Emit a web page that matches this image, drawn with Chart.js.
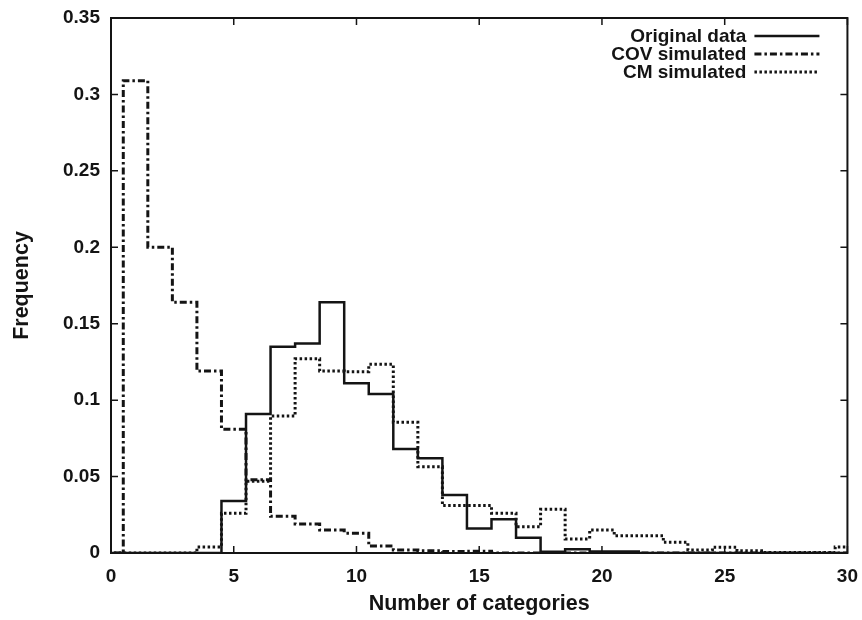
<!DOCTYPE html>
<html>
<head>
<meta charset="utf-8">
<title>Number of categories histogram</title>
<script src="https://cdn.jsdelivr.net/npm/chart.js@4"></script>
<style>
    html, body { margin: 0; padding: 0; background: #fff; }
    #wrap { width: 862px; height: 620px; position: relative; }
</style>
</head>
<body>
<div id="wrap"><canvas id="chart-hist"></canvas></div>
<script>
// ─── DATA ────────────────────────────────────────────────────
// one value per category bin (bin k spans k-0.5 .. k+0.5)
const categories = [0, 1, 2, 3, 4, 5, 6, 7, 8, 9, 10, 11, 12, 13, 14, 15,
                    16, 17, 18, 19, 20, 21, 22, 23, 24, 25, 26, 27, 28, 29, 30];

const originalData = [0, 0, 0, 0, 0, 0.034, 0.091, 0.135, 0.137, 0.164, 0.111,
                      0.104, 0.068, 0.062, 0.038, 0.016, 0.022, 0.010, 0.0008, 0.0024,
                      0.001, 0.001, 0, 0, 0, 0, 0, 0, 0, 0, 0];

const covSimulated = [0, 0.309, 0.200, 0.164, 0.119, 0.081, 0.048, 0.024, 0.019, 0.015,
                      0.013, 0.0045, 0.002, 0.0015, 0.001, 0.0012, 0, 0, 0, 0,
                      0, 0, 0, 0, 0, 0, 0, 0, 0, 0, 0];

const cmSimulated = [0, 0, 0, 0, 0.004, 0.026, 0.047, 0.0896, 0.127, 0.119, 0.1186,
                     0.1234, 0.0855, 0.0565, 0.031, 0.031, 0.026, 0.0172, 0.0286, 0.0092,
                     0.015, 0.0113, 0.0113, 0.007, 0.002, 0.0037, 0.0015, 0.0003, 0.0003, 0.0003,
                     0.004];

const xTicks = [0, 5, 10, 15, 20, 25, 30];
const yTicks = [0, 0.05, 0.1, 0.15, 0.2, 0.25, 0.3, 0.35];
const yTickLabels = ['0', '0.05', '0.1', '0.15', '0.2', '0.25', '0.3', '0.35'];

// ─── HELPERS ─────────────────────────────────────────────────

// turn bin values into step points: left edge of each bin, plus a closing edge
function toSteps(values) {
    const pts = categories.map((c, i) => ({ x: c - 0.5, y: values[i] }));
    pts.push({ x: categories[categories.length - 1] + 0.5, y: 0 });
    return pts;
}

const FONT = '"Liberation Sans", Arial, sans-serif';
const INK = '#141414';

// frame + inward ticks on all four sides, gnuplot style
const framePlugin = {
    id: 'frame',
    afterDatasetsDraw(chart) {
        const { ctx, chartArea: { left, right, top, bottom } } = chart;
        const xs = chart.scales.x, ys = chart.scales.y;
        const len = 7;
        ctx.save();
        ctx.strokeStyle = INK;
        ctx.lineWidth = 1.5;
        ctx.beginPath();
        for (const v of xTicks) {
            const px = xs.getPixelForValue(v);
            ctx.moveTo(px, bottom); ctx.lineTo(px, bottom - len);
            ctx.moveTo(px, top);    ctx.lineTo(px, top + len);
        }
        for (const v of yTicks) {
            const py = ys.getPixelForValue(v);
            ctx.moveTo(left, py);  ctx.lineTo(left + len, py);
            ctx.moveTo(right, py); ctx.lineTo(right - len, py);
        }
        ctx.stroke();
        ctx.lineWidth = 2;
        ctx.strokeRect(left, top, right - left, bottom - top);
        ctx.restore();
    },
};

// legend in the top-right corner: label text, then a line sample to its right
const legendPlugin = {
    id: 'cornerLegend',
    afterDraw(chart) {
        const { ctx, chartArea: { right, top } } = chart;
        chart.data.datasets.forEach((ds, i) => {
            const y = top + 18 + i * 18;
            ctx.save();
            ctx.font = `bold 19px ${FONT}`;
            ctx.textAlign = 'right';
            ctx.textBaseline = 'middle';
            ctx.fillStyle = INK;
            ctx.fillText(ds.label, right - 101, y + 1);
            ctx.strokeStyle = ds.borderColor;
            ctx.lineWidth = ds.borderWidth;
            ctx.setLineDash(ds.borderDash || []);
            ctx.beginPath();
            ctx.moveTo(right - 93, y);
            ctx.lineTo(right - 28, y);
            ctx.stroke();
            ctx.restore();
        });
    },
};

// ─── CHART ───────────────────────────────────────────────────

new Chart(document.getElementById('chart-hist'), {
    type: 'line',
    data: {
        datasets: [
            {
                label: 'Original data',
                data: toSteps(originalData),
                borderColor: INK,
                borderWidth: 2.5,
                stepped: 'before',
                pointRadius: 0,
                fill: false,
            },
            {
                label: 'COV simulated',
                data: toSteps(covSimulated),
                borderColor: INK,
                borderWidth: 3,
                borderDash: [7, 3, 2.5, 3],
                stepped: 'before',
                pointRadius: 0,
                fill: false,
            },
            {
                label: 'CM simulated',
                data: toSteps(cmSimulated),
                borderColor: INK,
                borderWidth: 3,
                borderDash: [2.5, 2.5],
                stepped: 'before',
                pointRadius: 0,
                fill: false,
            },
        ],
    },
    options: {
        responsive: true,
        maintainAspectRatio: false,
        animation: false,
        layout: { padding: { top: 18, right: 14, left: 0, bottom: 0 } },
        plugins: {
            legend: { display: false },
            tooltip: { enabled: false },
        },
        scales: {
            x: {
                type: 'linear',
                min: 0,
                max: 30,
                afterBuildTicks: s => { s.ticks = xTicks.map(v => ({ value: v })); },
                afterFit: s => { s.height = 67; },
                grid: { display: false },
                border: { display: false },
                ticks: {
                    color: INK,
                    padding: 4,
                    font: { family: FONT, size: 19, weight: 'bold' },
                },
                title: {
                    display: true,
                    text: 'Number of categories',
                    color: INK,
                    padding: { bottom: 3 },
                    font: { family: FONT, size: 21.5, weight: 'bold' },
                },
            },
            y: {
                type: 'linear',
                min: 0,
                max: 0.35,
                afterBuildTicks: s => { s.ticks = yTicks.map(v => ({ value: v })); },
                afterFit: s => { s.width = 111; },
                grid: { display: false },
                border: { display: false },
                ticks: {
                    color: INK,
                    padding: 3,
                    font: { family: FONT, size: 19, weight: 'bold' },
                    callback: (v, i) => yTickLabels[i],
                },
                title: {
                    display: true,
                    text: 'Frequency',
                    color: INK,
                    padding: { top: 9 },
                    font: { family: FONT, size: 21.5, weight: 'bold' },
                },
            },
        },
    },
    plugins: [framePlugin, legendPlugin],
});
</script>
</body>
</html>
